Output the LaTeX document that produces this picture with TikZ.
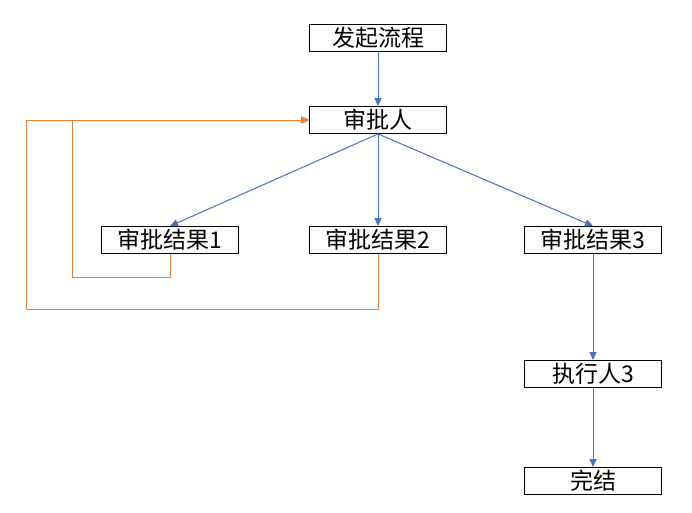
\documentclass[tikz,border=0pt]{standalone}
\usepackage{fontspec}
\setmainfont{Noto Sans CJK SC}
\usetikzlibrary{arrows.meta}
\definecolor{flowblue}{HTML}{4472C4}
\definecolor{backorange}{HTML}{ED7D31}
\begin{document}
\begin{tikzpicture}[
        x=1pt, y=-1pt,
        box/.style={draw, line width=0.9pt, inner sep=0pt, minimum width=137pt, minimum height=27pt, font=\fontsize{23}{23}\selectfont}, % Caixa de cada etapa
        flow/.style={draw=flowblue, line width=1pt, -{Triangle[width=7pt,length=8pt]}}, % Fluxo normal
        back/.style={draw=backorange, line width=1pt, -{Triangle[width=7pt,length=8pt]}} % Retorno ao aprovador
    ]
    \useasboundingbox (0,0) rectangle (692,512);
    \node[box] (start) at (378,38) {发起流程};
    \node[box] (appr) at (378,120) {审批人};
    \node[box] (res1) at (170,240) {审批结果1};
    \node[box] (res2) at (378,240) {审批结果2};
    \node[box] (res3) at (593,240) {审批结果3};
    \node[box] (exec3) at (593,374) {执行人3};
    \node[box] (done) at (593,481) {完结};

    \draw[flow] (start) -- (appr);
    \draw[flow] (appr.south) -- (res1.north);
    \draw[flow] (appr.south) -- (res2.north);
    \draw[flow] (appr.south) -- (res3.north);
    \draw[flow] (res3) -- (exec3);
    \draw[flow] (exec3) -- (done);

    \draw[back] (res1.south) |- (72,277) |- (appr.west);
    \draw[back] (res2.south) |- (26,309) |- (appr.west);
\end{tikzpicture}
\end{document}
